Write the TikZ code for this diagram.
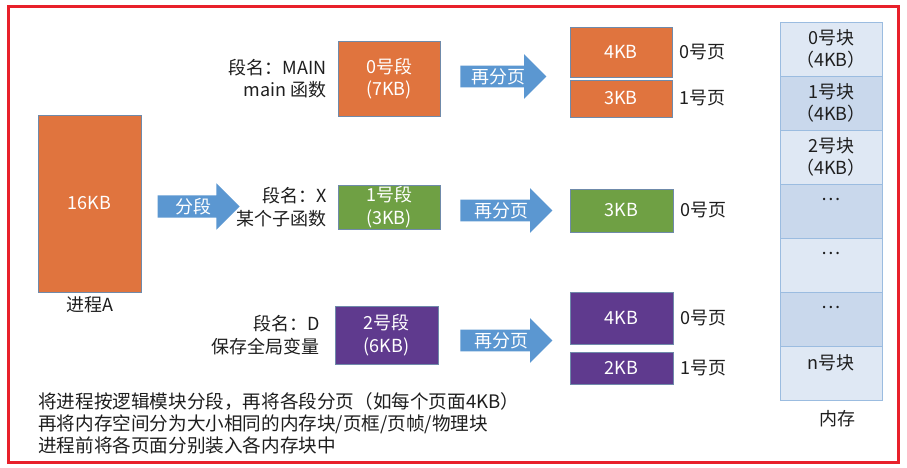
\documentclass[tikz,border=0pt]{standalone}
\usepackage{fontspec}
\setmainfont{Noto Sans CJK SC}
\usetikzlibrary{positioning,shapes.arrows}
\definecolor{orng}{HTML}{E0743E}
\definecolor{gruen}{HTML}{6FA044}
\definecolor{lila}{HTML}{5F3A8E}
\definecolor{pfeilb}{HTML}{5B97D1}
\definecolor{rahmen}{HTML}{6F8AAA}
\definecolor{zhell}{HTML}{DFE8F4}
\definecolor{zdunkel}{HTML}{C9D8EC}
\definecolor{zrand}{HTML}{9BBCE0}
\definecolor{schrift}{HTML}{1E1E1E}
\definecolor{rot}{HTML}{E8202A}
\tikzset{
  blk/.style={draw=rahmen,line width=0.5pt,inner sep=0pt,text=white,align=center,minimum width=102pt},
  pfeil/.style={single arrow,fill=pfeilb,draw=none,text=white,inner xsep=2pt,inner ysep=2.5pt,
    single arrow head extend=11.5pt,single arrow head indent=0pt,minimum height=88pt},
  zelle/.style={draw=zrand,line width=0.7pt,minimum width=102pt,minimum height=54pt,inner sep=0pt,align=center,text=schrift},
  beschr/.style={text=schrift,align=right,inner sep=2pt},
  seite/.style={text=schrift,inner sep=2pt},
}

\begin{document}
\begin{tikzpicture}[x=1pt,y=-1pt,font=\fontsize{18pt}{22.5pt}\selectfont]
  \useasboundingbox[fill=white] (0,0) rectangle (907,468);
  \draw[rot,line width=3pt] (8,7) rectangle (898,462);
  % Prozess
  \node[blk,fill=orng,minimum width=103pt,minimum height=177pt] (proz) at (89.5,203.5) {16KB};
  \node[seite,below=2pt of proz] (prozn) {进程A};
  \node[pfeil,single arrow head extend=12pt,minimum height=82pt] (fd) at (193,206.5) {分段};
  % Segmente
  \node[blk,fill=orng,minimum height=75pt] (seg0) at (389,78.5) {0号段\\(7KB)};
  \node[blk,fill=gruen,minimum height=44pt] (seg1) at (389,207) {1号段\\(3KB)};
  \node[blk,fill=lila,minimum width=103pt,minimum height=58pt] (seg2) at (386.5,335) {2号段\\(6KB)};
  \node[beschr,left=9pt of seg0] (b0) {段名：MAIN\\main 函数};
  \node[beschr,left=9pt of seg1] (b1) {段名：X\\某个子函数};
  \node[beschr,left=13pt of seg2] (b2) {段名：D\\保存全局变量};
  \node[pfeil,minimum height=86pt] (fp0) at (498,76.5) {再分页};
  \node[pfeil,minimum height=92pt] (fp1) at (501,210.5) {再分页};
  \node[pfeil,minimum height=92pt] (fp2) at (501,340.5) {再分页};
  % Seiten
  \node[blk,fill=orng,minimum height=50pt] (p00) at (621,52) {4KB};
  \node[blk,fill=orng,minimum height=37pt] (p01) at (621,98.5) {3KB};
  \node[blk,fill=gruen,minimum width=103pt,minimum height=43pt] (p10) at (621.5,210.5) {3KB};
  \node[blk,fill=lila,minimum width=103pt,minimum height=52pt] (p20) at (621.5,318) {4KB};
  \node[blk,fill=lila,minimum width=103pt,minimum height=32pt] (p21) at (621.5,368) {2KB};
  \node[seite,right=5pt of p00] (s00) {0号页};
  \node[seite,right=5pt of p01] (s01) {1号页};
  \node[seite,right=5pt of p10] (s10) {0号页};
  \node[seite,right=5pt of p20] (s20) {0号页};
  \node[seite,right=5pt of p21] (s21) {1号页};
  % Speicher
  \foreach \i/\t/\c in {0/{0号块\\（4KB）}/zhell,1/{1号块\\（4KB）}/zdunkel,2/{2号块\\（4KB）}/zhell,
      3/{…\\\phantom{0}}/zdunkel,4/{…\\\phantom{0}}/zhell,5/{…\\\phantom{0}}/zdunkel,6/{n号块\\\phantom{0}}/zhell}
    \node[zelle,fill=\c] (m\i) at (831,{49+54*\i}) {\t};
  \node[seite,below=8pt of m6,xshift=6pt] (mem) {内存};
  % Text unten
  \node[text=schrift,align=left,anchor=north west,inner sep=0pt,font=\fontsize{18.6pt}{22pt}\selectfont] (txt) at (38,392)
    {将进程按逻辑模块分段，再将各段分页（如每个页面4KB）\\再将内存空间分为大小相同的内存块/页框/页帧/物理块\\进程前将各页面分别装入各内存块中};
\end{tikzpicture}
\end{document}
